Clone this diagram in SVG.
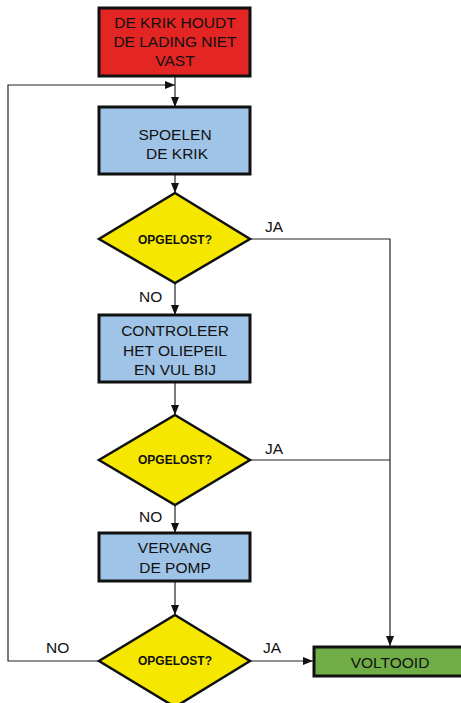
<svg xmlns="http://www.w3.org/2000/svg" width="461" height="703" viewBox="0 0 461 703">
<defs>
<marker id="arr" viewBox="0 0 10 8" refX="10" refY="4" markerWidth="10" markerHeight="8" markerUnits="userSpaceOnUse" orient="auto">
<path d="M0,0 L10,4 L0,8 Z" fill="#111"/>
</marker>
<style>
.box{stroke:#111;stroke-width:3}
.dia{fill:#f5e700;stroke:#111;stroke-width:2.5;stroke-linejoin:miter}
.t{font-family:"Liberation Sans",Arial,sans-serif;font-size:15.5px;fill:#111;text-anchor:middle}
.q{font-family:"Liberation Sans",Arial,sans-serif;font-size:12px;font-weight:bold;fill:#111;text-anchor:middle}
.l{font-family:"Liberation Sans",Arial,sans-serif;font-size:15.5px;fill:#111}
.c{fill:none;stroke:#222;stroke-width:1.2}
</style>
</defs>
<rect width="461" height="703" fill="#fff"/>
<g id="connectors">
<path class="c" d="M175,76 V107" marker-end="url(#arr)"/>
<path class="c" d="M99,661 H8 V85 H175" marker-end="url(#arr)"/>
<path class="c" d="M175,174 V193" marker-end="url(#arr)"/>
<path class="c" d="M175,283 V315" marker-end="url(#arr)"/>
<path class="c" d="M175,382 V415" marker-end="url(#arr)"/>
<path class="c" d="M175,505 V533" marker-end="url(#arr)"/>
<path class="c" d="M175,581 V615" marker-end="url(#arr)"/>
<path class="c" d="M250,239 H390 V646" marker-end="url(#arr)"/>
<path class="c" d="M250,460 H390"/>
<path class="c" d="M250,661 H313" marker-end="url(#arr)"/>
<text class="l" x="265" y="231.5">JA</text>
<text class="l" x="139" y="301.5">NO</text>
<text class="l" x="265" y="453.5">JA</text>
<text class="l" x="139" y="521.5">NO</text>
<text class="l" x="46" y="653">NO</text>
<text class="l" x="263" y="653">JA</text>
</g>
<g id="start">
<rect class="box" x="99" y="8" width="151" height="68" fill="#e32523"/>
<text class="t" x="175" y="28">DE KRIK HOUDT</text>
<text class="t" x="175" y="47">DE LADING NIET</text>
<text class="t" x="175" y="66">VAST</text>
</g>
<g id="spoelen">
<rect class="box" x="99" y="107" width="151" height="67" fill="#9fc4e7"/>
<text class="t" x="175" y="140">SPOELEN</text>
<text class="t" x="177" y="159">DE KRIK</text>
</g>
<g id="q1">
<polygon class="dia" points="175,193 250,239 175,283 99,239"/>
<text class="q" x="175" y="243.5">OPGELOST?</text>
</g>
<g id="controleer">
<rect class="box" x="99" y="315" width="151" height="67" fill="#9fc4e7"/>
<text class="t" x="175" y="336">CONTROLEER</text>
<text class="t" x="175" y="355.5">HET OLIEPEIL</text>
<text class="t" x="175" y="375">EN VUL BIJ</text>
</g>
<g id="q2">
<polygon class="dia" points="175,415 250,460 175,505 99,460"/>
<text class="q" x="175" y="464">OPGELOST?</text>
</g>
<g id="vervang">
<rect class="box" x="99" y="533" width="151" height="48" fill="#9fc4e7"/>
<text class="t" x="175" y="553">VERVANG</text>
<text class="t" x="175" y="573">DE POMP</text>
</g>
<g id="q3">
<polygon class="dia" points="175,615 250,661 175,707 99,661"/>
<text class="q" x="175" y="665">OPGELOST?</text>
</g>
<g id="voltooid">
<rect class="box" x="314" y="647" width="152" height="29" fill="#70ad47"/>
<text class="t" x="390" y="667.5">VOLTOOID</text>
</g>
</svg>
